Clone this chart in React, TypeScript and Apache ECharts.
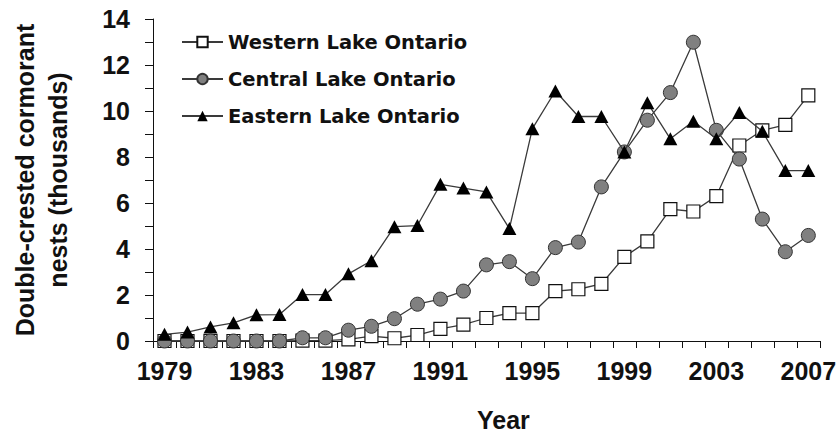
import React, { useEffect, useRef } from "react";
import * as echarts from "echarts";

const years: string[] = [
  "1979", "1980", "1981", "1982", "1983", "1984", "1985", "1986", "1987", "1988",
  "1989", "1990", "1991", "1992", "1993", "1994", "1995", "1996", "1997", "1998",
  "1999", "2000", "2001", "2002", "2003", "2004", "2005", "2006", "2007",
];

const western: number[] = [
  0, 0, 0, 0, 0, 0, 0.02, 0.02, 0.07, 0.21,
  0.12, 0.26, 0.53, 0.71, 1.0, 1.21, 1.21, 2.17, 2.25, 2.48,
  3.66, 4.33, 5.73, 5.63, 6.3, 8.5, 9.16, 9.4, 10.68,
];

const central: number[] = [
  0, 0, 0, 0, 0, 0, 0.14, 0.14, 0.47, 0.64,
  0.97, 1.6, 1.82, 2.17, 3.31, 3.45, 2.71, 4.06, 4.3, 6.7,
  8.22, 9.6, 10.8, 12.99, 9.16, 7.91, 5.3, 3.88, 4.59,
];

const eastern: number[] = [
  0.29, 0.39, 0.61, 0.79, 1.14, 1.15, 2.02, 2.02, 2.92, 3.49,
  4.97, 5.02, 6.81, 6.65, 6.48, 4.89, 9.23, 10.87, 9.76, 9.76,
  8.22, 10.36, 8.79, 9.55, 8.79, 9.94, 9.12, 7.41, 7.41,
];

const seriesNames: string[] = [
  "Western Lake Ontario",
  "Central Lake Ontario",
  "Eastern Lake Ontario",
];

const yTitle = "Double-crested cormorant\nnests (thousands)";
const xTitle = "Year";

const AXIS_FONT = "'Liberation Sans', Arial, Helvetica, sans-serif";
const LEGEND_FONT = "'DejaVu Sans', Verdana, sans-serif";
const LINE_COLOR = "#3a3a3a";

export default function App() {
  const ref = useRef<HTMLDivElement | null>(null);

  useEffect(() => {
    if (!ref.current) return;
    const chart = echarts.init(ref.current, undefined, { renderer: "svg" });
    const lineStyle = { color: LINE_COLOR, width: 1.3 };
    chart.setOption({
      animation: false,
      backgroundColor: "#ffffff",
      grid: { left: 146, right: 19, top: 19, bottom: 90, containLabel: false },
      legend: {
        orient: "vertical",
        left: 181,
        top: 32,
        padding: 0,
        itemWidth: 41,
        itemHeight: 13,
        itemGap: 17,
        data: seriesNames,
        textStyle: {
          fontFamily: LEGEND_FONT,
          fontWeight: "bold",
          fontSize: 19.5,
          color: "#111",
          lineHeight: 20,
        },
      },
      xAxis: {
        type: "category",
        data: years,
        boundaryGap: true,
        name: xTitle,
        nameLocation: "middle",
        nameGap: 66,
        nameTextStyle: {
          fontFamily: AXIS_FONT,
          fontWeight: "bold",
          fontSize: 25,
          color: "#111",
          padding: [0, 0, 0, 34],
        },
        axisLine: { show: true, lineStyle: { color: "#111", width: 1 } },
        axisTick: { show: true, interval: 0, length: 7, lineStyle: { color: "#111" } },
        axisLabel: {
          interval: 3,
          margin: 17,
          fontFamily: AXIS_FONT,
          fontWeight: "bold",
          fontSize: 25,
          color: "#111",
        },
        splitLine: { show: false },
      },
      yAxis: {
        type: "value",
        min: 0,
        max: 14,
        interval: 1,
        name: yTitle,
        nameLocation: "middle",
        nameRotate: 90,
        nameGap: 79,
        nameTextStyle: {
          fontFamily: AXIS_FONT,
          fontWeight: "bold",
          fontSize: 25,
          lineHeight: 33,
          color: "#111",
          align: "center",
        },
        axisLine: { show: true, lineStyle: { color: "#111", width: 1 } },
        axisTick: { show: true, length: 8, lineStyle: { color: "#111" } },
        axisLabel: {
          margin: 23,
          fontFamily: AXIS_FONT,
          fontWeight: "bold",
          fontSize: 25,
          color: "#111",
          formatter: (v: number) => (Math.round(v) % 2 === 0 ? String(v) : ""),
        },
        splitLine: { show: false },
      },
      series: [
        {
          name: seriesNames[0],
          type: "line",
          data: western,
          symbol: "rect",
          symbolSize: 13,
          showAllSymbol: true,
          lineStyle,
          itemStyle: { color: "#ffffff", borderColor: "#111", borderWidth: 1.2 },
          z: 2,
        },
        {
          name: seriesNames[1],
          type: "line",
          data: central,
          symbol: "circle",
          symbolSize: 14,
          showAllSymbol: true,
          lineStyle,
          itemStyle: { color: "#808080", borderColor: "#333", borderWidth: 1 },
          z: 3,
        },
        {
          name: seriesNames[2],
          type: "line",
          data: eastern,
          symbol: "triangle",
          symbolSize: [14, 13],
          showAllSymbol: true,
          lineStyle,
          itemStyle: { color: "#000000", borderColor: "#000", borderWidth: 0 },
          z: 4,
        },
      ],
    });
    return () => chart.dispose();
  }, []);

  return (
    <div
      ref={ref}
      style={{ position: "fixed", left: 0, top: 0, width: 839, height: 437 }}
    />
  );
}
